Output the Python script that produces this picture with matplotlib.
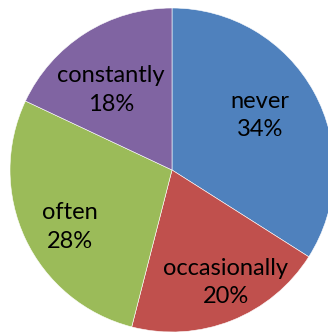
import numpy as np
import matplotlib.pyplot as plt

categories = ["never", "occasionally", "often", "constantly"]
values = [34, 20, 28, 18]
colors = ["#4F81BD", "#C0504D", "#9BBB59", "#8064A2"]

W, H = 328, 332
CX, CY, R = 172, H - 170, 162
fig = plt.figure(figsize=(W / 100, H / 100), dpi=100)
ax = fig.add_axes([0, 0, 1, 1])

wedges, _ = ax.pie(
    values, colors=colors, startangle=90, counterclock=False,
    center=(CX, CY), radius=R,
    wedgeprops=dict(edgecolor="white", linewidth=0.4),
    frame=True,
)
ax.set_xlim(0, W)
ax.set_ylim(0, H)
ax.set_aspect("equal")
ax.axis("off")

# label placement (fraction of radius, angle nudge in degrees), like Excel's best fit
dists = [0.64, 0.77, 0.72, 0.62]
nudge = [3, 4, 4, 5]
for w, c, v, d, n in zip(wedges, categories, values, dists, nudge):
    ang = np.deg2rad((w.theta1 + w.theta2) / 2 + n)
    ax.text(CX + d * R * np.cos(ang), CY + d * R * np.sin(ang), f"{c}\n{v}%",
            ha="center", va="center", fontsize=17, family="Lato",
            linespacing=1.45, color="black")

fig.savefig("out.png", dpi=100)
